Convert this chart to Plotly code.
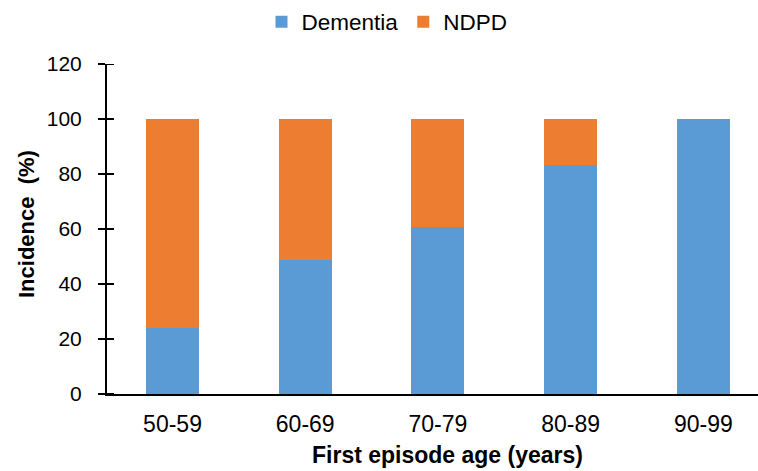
import plotly.graph_objects as go

categories = ["50-59", "60-69", "70-79", "80-89", "90-99"]
dementia = [24.0, 48.6, 60.8, 83.3, 100.0]
ndpd = [76.0, 51.4, 39.2, 16.7, 0.0]
y_ticks = [0, 20, 40, 60, 80, 100, 120]

W, H = 758, 471
L, R, T, B = 107, 0, 64, 77
pw, ph = W - L - R, H - T - B

def px(x):
    return (x - L) / pw

def py(y):
    return (H - B - y) / ph

FONT = "Liberation Sans, Arial, sans-serif"

fig = go.Figure()
fig.add_trace(go.Bar(x=categories, y=dementia, name="Dementia",
                     marker=dict(color="#5B9BD5", line=dict(width=0)), width=0.4))
fig.add_trace(go.Bar(x=categories, y=ndpd, name="NDPD",
                     marker=dict(color="#ED7D31", line=dict(width=0)), width=0.4))

spacing = 132.7
first_center = 172.5
x_range = [-(first_center - L) / spacing, (W - R - first_center) / spacing]

# tick marks crossing the y axis (inside part), positioned from the tick values
tick_shapes = [
    dict(type="line", xref="paper", yref="y", xsizemode="pixel", xanchor=0,
         x0=0, x1=7, y0=v, y1=v, line=dict(color="black", width=2), layer="above")
    for v in y_ticks
]

fig.update_layout(
    width=W, height=H,
    margin=dict(l=L, r=R, t=T, b=B),
    barmode="stack",
    plot_bgcolor="white", paper_bgcolor="white",
    font=dict(family=FONT, color="black"),
    showlegend=True,
    legend=dict(orientation="h", x=px(387), xanchor="center", y=py(22), yanchor="middle",
                font=dict(size=22.5, family=FONT), itemwidth=30, traceorder="normal"),
    xaxis=dict(type="category", range=x_range, showline=True, linecolor="black",
               linewidth=2, ticks="", tickfont=dict(size=23, family=FONT), showgrid=False,
               zeroline=False, ticklabelstandoff=8),
    yaxis=dict(range=[0, 120], tickvals=y_ticks, showline=True, linecolor="black",
               linewidth=2, ticks="outside", ticklen=7, tickwidth=2, tickcolor="black",
               tickfont=dict(size=21, family=FONT), showgrid=False, zeroline=False,
               ticklabelstandoff=12),
    shapes=tick_shapes,
    annotations=[
        dict(text="<b>First episode age (years)</b>", xref="paper", yref="paper",
             x=px(447), y=py(455), xanchor="center", yanchor="middle", showarrow=False,
             font=dict(size=23, family=FONT)),
        dict(text="<b>Incidence  (%)</b>", xref="paper", yref="paper",
             x=px(26), y=py(224), xanchor="center", yanchor="middle", showarrow=False,
             textangle=-90, font=dict(size=22, family=FONT)),
    ],
)

fig.write_html("out.html", post_script="document.body.style.margin='0';",
               config={"displayModeBar": False})
